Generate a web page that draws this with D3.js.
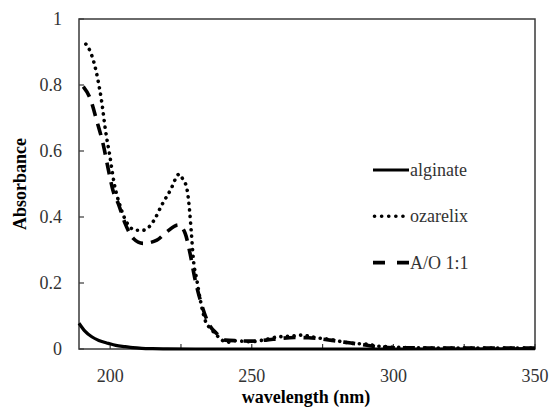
<!DOCTYPE html>
<html>
<head>
<meta charset="utf-8">
<script src="https://cdn.jsdelivr.net/npm/d3@7"></script>
</head>
<body style="margin:0; background:#fff">
<svg id="chart"></svg>
<script>
// wavelength (nm) / absorbance pairs
const alginateWl = [189, 191, 193.5, 196, 199.4, 202, 205.3, 208, 211.2, 215, 220, 230, 250, 300, 350];
const alginateAbs = [0.078, 0.055, 0.037, 0.026, 0.017, 0.011, 0.007, 0.004, 0.002, 0.001, 0.0005, 0, 0, 0, 0.001];

const ozarelixWl = [191.4, 192.9, 195.7, 197, 198.4, 199.8, 201.4, 203.5, 206.4, 209.1, 211.7, 215.5, 218.2, 221.2, 224.4, 225.8, 227, 228, 228.6, 229.4, 230.6, 231.8, 233.5, 235.9, 238.2, 241.2, 244.1, 249.4, 254, 259.4, 264, 267.7, 273, 277.7, 281.8, 285.8, 290.6, 294.2, 297.7, 305, 320, 350];
const ozarelixAbs = [0.924, 0.903, 0.815, 0.75, 0.66, 0.59, 0.503, 0.434, 0.376, 0.36, 0.36, 0.39, 0.436, 0.48, 0.53, 0.512, 0.49, 0.424, 0.36, 0.27, 0.21, 0.15, 0.088, 0.058, 0.037, 0.02, 0.025, 0.022, 0.027, 0.037, 0.039, 0.042, 0.034, 0.029, 0.022, 0.017, 0.015, 0.009, 0.007, 0.004, 0.003, 0.003];

const mixWl = [190.5, 192.9, 195.2, 197.6, 199.4, 201, 202.9, 205.3, 208.2, 211.7, 216.5, 220, 224.1, 226.5, 228.2, 230, 232.1, 234.7, 237.6, 240.6, 245, 250, 255, 260, 265, 270, 275, 280, 285, 290, 295, 300, 320, 350];
const mixAbs = [0.795, 0.76, 0.694, 0.618, 0.542, 0.48, 0.44, 0.38, 0.335, 0.32, 0.33, 0.355, 0.376, 0.35, 0.29, 0.21, 0.14, 0.078, 0.047, 0.027, 0.025, 0.024, 0.027, 0.032, 0.035, 0.034, 0.03, 0.024, 0.018, 0.012, 0.006, 0.004, 0.003, 0.003];

const seriesNames = ["alginate", "ozarelix", "A/O 1:1"];
const xTicks = [200, 225, 250, 275, 300, 325, 350];
const xLabels = [200, 250, 300, 350];
const yTicks = [0, 0.2, 0.4, 0.6, 0.8, 1];

const W = 552, H = 410;
const margin = { top: 19, right: 17, bottom: 61, left: 79 };
const iw = W - margin.left - margin.right;
const ih = H - margin.top - margin.bottom;
const serif = '"Liberation Serif"';

const svg = d3.select("#chart").attr("width", W).attr("height", H);
const g = svg.append("g").attr("transform", `translate(${margin.left},${margin.top})`);

const x = d3.scaleLinear().domain([189, 350]).range([0, iw]);
const y = d3.scaleLinear().domain([0, 1]).range([ih, 0]);

// frame
g.append("rect")
    .attr("width", iw).attr("height", ih)
    .attr("fill", "none").attr("stroke", "#3a3a3a").attr("stroke-width", 1.5);

// x ticks (inside, upward) and labels
g.selectAll(".xt").data(xTicks).enter().append("line")
    .attr("x1", d => x(d)).attr("x2", d => x(d))
    .attr("y1", ih).attr("y2", ih - 5)
    .attr("stroke", "#3a3a3a").attr("stroke-width", 1.2);
g.selectAll(".xl").data(xLabels).enter().append("text")
    .attr("x", d => x(d)).attr("y", ih + 33)
    .attr("text-anchor", "middle")
    .style("font-family", serif)
    .style("font-size", "18px").style("fill", "#333")
    .text(d => d);

// y ticks (inside) and labels
g.selectAll(".yt").data(yTicks).enter().append("line")
    .attr("x1", 0).attr("x2", 5)
    .attr("y1", d => y(d)).attr("y2", d => y(d))
    .attr("stroke", "#3a3a3a").attr("stroke-width", 1.2);
g.selectAll(".yl").data(yTicks).enter().append("text")
    .attr("x", -17).attr("y", d => y(d)).attr("dy", "0.33em")
    .attr("text-anchor", "end")
    .style("font-family", serif)
    .style("font-size", "18px").style("fill", "#333")
    .text(d => d);

// axis titles
svg.append("text")
    .attr("x", 306).attr("y", 403)
    .attr("text-anchor", "middle")
    .style("font-family", serif)
    .style("font-size", "18px").style("font-weight", "bold")
    .text("wavelength (nm)");
svg.append("text")
    .attr("transform", `translate(26,${margin.top + ih / 2}) rotate(-90)`)
    .attr("text-anchor", "middle")
    .style("font-family", serif)
    .style("font-size", "18px").style("font-weight", "bold")
    .text("Absorbance");

const line = d3.line()
    .x(d => x(d[0]))
    .y(d => y(d[1]))
    .curve(d3.curveMonotoneX);

const styles = [
    { dash: null, width: 3.2, cap: "butt" },
    { dash: "0.1 6.5", width: 3.6, cap: "round" },
    { dash: "12 8", width: 3.6, cap: "butt" }
];
const series = [
    d3.zip(alginateWl, alginateAbs),
    d3.zip(ozarelixWl, ozarelixAbs),
    d3.zip(mixWl, mixAbs)
];

const plot = g.append("g");
series.forEach((s, i) => {
    plot.append("path")
        .datum(s)
        .attr("d", line)
        .attr("fill", "none")
        .attr("stroke", "#000")
        .attr("stroke-width", styles[i].width)
        .attr("stroke-linecap", styles[i].cap)
        .attr("stroke-dasharray", styles[i].dash);
});

// legend
const legend = svg.append("g").attr("transform", "translate(373,170)");
legend.selectAll(".item")
    .data(seriesNames)
    .enter()
    .append("g")
    .attr("transform", (d, i) => `translate(0, ${i * 46.3})`)
    .each(function (d, i) {
        d3.select(this).append("line")
            .attr("x1", i === 1 ? 1.5 : 0).attr("x2", 36)
            .attr("y1", 0).attr("y2", 0)
            .attr("stroke", "#000")
            .attr("stroke-width", i === 0 ? 3 : styles[i].width)
            .attr("stroke-linecap", styles[i].cap)
            .attr("stroke-dasharray", i === 2 ? "12 12" : (i === 1 ? "0.1 7" : null));
        d3.select(this).append("text")
            .attr("x", 37).attr("y", 0).attr("dy", "0.33em")
            .style("font-family", serif)
            .style("font-size", "18px").style("fill", "#333")
            .text(d);
    });
</script>
</body>
</html>
